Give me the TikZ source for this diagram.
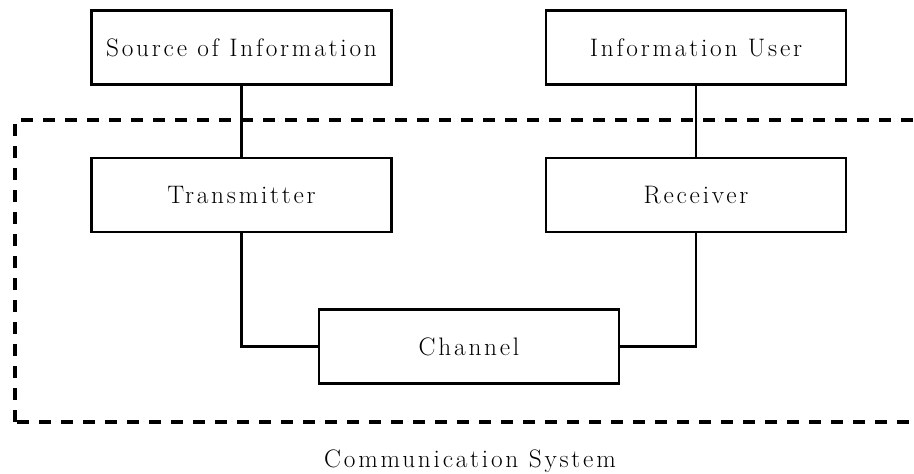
\documentclass[tikz,border=0pt]{standalone}
\usepackage{fontspec}
\usepackage{tikz}
\usetikzlibrary{arrows,arrows.meta}
\newfontfamily\widetext[LetterSpace=11]{Latin Modern Roman}
\tikzset{
	block/.style={draw, line width=1.6pt, minimum width=6.0cm, minimum height=1.48cm, font=\widetext\Large},
	link/.style={line width=1.6pt},
	sysframe/.style={line width=1.8pt, dash pattern=on 0.24cm off 0.2cm}
}

\begin{document}
\begin{tikzpicture}
	\useasboundingbox (0,0) rectangle (18.28,9.46);
	\clip (0,0) rectangle (18.28,9.46);
	\draw[sysframe] (0.3,1.02) rectangle (18.6,7.06);
	\node[block] (source) at (4.83,8.51) {Source of Information};
	\node[block] (user) at (13.92,8.51) {Information User};
	\node[block] (tx) at (4.83,5.56) {Transmitter};
	\node[block] (rx) at (13.92,5.56) {Receiver};
	\node[block] (chan) at (9.38,2.53) {Channel};
	\node[font=\widetext\Large] (sys) at (9.4,0.24) {Communication System};
	\draw[link] (source) -- (tx);
	\draw[link] (user) -- (rx);
	\draw[link] (tx) |- (chan);
	\draw[link] (rx) |- (chan);
	\end{tikzpicture}
\end{document}
